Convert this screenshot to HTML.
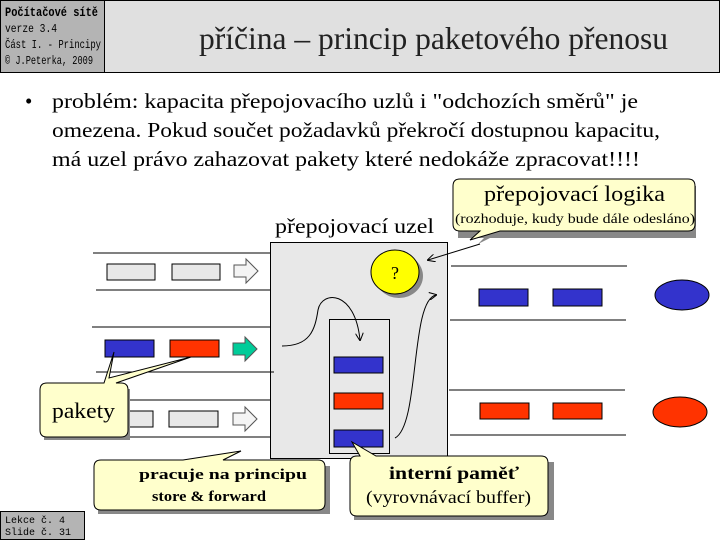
<!DOCTYPE html>
<html><head><meta charset="utf-8"><style>
body{margin:0;width:720px;height:540px;overflow:hidden;background:#fff}
svg text{font-family:"Liberation Serif","Times New Roman",serif}
svg text.m{font-family:"Liberation Mono",monospace}
</style></head><body>
<svg width="720" height="540" xmlns="http://www.w3.org/2000/svg">
<defs>
<marker id="ah" markerWidth="8" markerHeight="8" refX="7" refY="4" orient="auto"><path d="M0,0 L8,4 L0,8" fill="none" stroke="#000"/></marker>
</defs>
<rect x="0.5" y="0.5" width="104" height="72" fill="#b4b4b4" stroke="#000"/>
<rect x="104.5" y="0.5" width="615" height="72" fill="#e0e0e0" stroke="#000"/>
<g fill="#000">
<text class="m" x="5" y="16" font-weight="bold" font-size="13" textLength="93" lengthAdjust="spacingAndGlyphs">Počítačové sítě</text>
<text class="m" x="5" y="32" font-size="12" textLength="52" lengthAdjust="spacingAndGlyphs">verze 3.4</text>
<text class="m" x="5" y="48" font-size="12" textLength="96" lengthAdjust="spacingAndGlyphs">Část I. - Principy</text>
<text class="m" x="5" y="64" font-size="12" textLength="88" lengthAdjust="spacingAndGlyphs">© J.Peterka, 2009</text>
</g>
<text x="199" y="49" font-size="32" fill="#222" textLength="469" lengthAdjust="spacingAndGlyphs">příčina – princip paketového přenosu</text>
<g font-size="21" fill="#000">
<text x="25" y="108">•</text>
<text x="52" y="108" textLength="586" lengthAdjust="spacingAndGlyphs">problém: kapacita přepojovacího uzlů i "odchozích směrů" je</text>
<text x="52" y="137" textLength="608" lengthAdjust="spacingAndGlyphs">omezena. Pokud součet požadavků překročí dostupnou kapacitu,</text>
<text x="52" y="166" textLength="588" lengthAdjust="spacingAndGlyphs">má uzel právo zahazovat pakety které nedokáže zpracovat!!!!</text>
<text x="275" y="233" textLength="159" lengthAdjust="spacingAndGlyphs">přepojovací uzel</text>
</g>
<rect x="270.5" y="242.5" width="177" height="216" fill="#e8e8e8" stroke="#000"/>
<g stroke="#000" stroke-width="1">
<line x1="93" y1="253" x2="270" y2="253"/><line x1="96" y1="290" x2="270" y2="290"/>
<line x1="92" y1="327" x2="270" y2="327"/><line x1="96" y1="372" x2="274" y2="372"/>
<line x1="92" y1="400" x2="270" y2="400"/><line x1="96" y1="437" x2="270" y2="437"/>
<line x1="451" y1="266" x2="627" y2="266"/><line x1="450" y1="320" x2="626" y2="320"/>
<line x1="449" y1="390" x2="625" y2="390"/><line x1="450" y1="435" x2="626" y2="435"/>
</g>
<g stroke="#000">
<rect x="107" y="264" width="48" height="16" fill="#e8e8e8"/><rect x="172" y="264" width="48" height="16" fill="#e8e8e8"/>
<path d="M234,265 h12 v-6 l12,12 l-12,12 v-6 h-12z" fill="#f4f4f4" stroke="#555"/>
<rect x="105" y="340" width="49" height="17" fill="#3333cc"/><rect x="170" y="340" width="49" height="17" fill="#ff3300"/>
<path d="M233,343 h12 v-6 l12,12 l-12,12 v-6 h-12z" fill="#00cc99" stroke="#555"/>
<rect x="105" y="411" width="48" height="16" fill="#e8e8e8"/><rect x="169" y="411" width="49" height="16" fill="#e8e8e8"/>
<path d="M233,413 h12 v-6 l12,12 l-12,12 v-6 h-12z" fill="#f4f4f4" stroke="#555"/>
<rect x="329.5" y="319.5" width="60" height="134" fill="none"/>
<rect x="334" y="357" width="49" height="16" fill="#3333cc"/>
<rect x="334" y="393" width="49" height="16" fill="#ff3300"/>
<rect x="334" y="430" width="49" height="17" fill="#3333cc"/>
<rect x="479" y="289" width="49" height="17" fill="#3333cc"/><rect x="553" y="289" width="49" height="17" fill="#3333cc"/>
<rect x="480" y="403" width="49" height="16" fill="#ff3300"/><rect x="553" y="403" width="49" height="16" fill="#ff3300"/>
<ellipse cx="682" cy="295" rx="27" ry="15" fill="#3333cc"/>
<ellipse cx="680" cy="412" rx="27" ry="15" fill="#ff3300"/>
</g>
<ellipse cx="399" cy="276" rx="24" ry="22" fill="#888"/>
<ellipse cx="395" cy="272" rx="24" ry="22" fill="#ffff00" stroke="#000"/>
<text x="395" y="279" font-size="18" text-anchor="middle">?</text>
<g fill="none" stroke="#000">
<path d="M282,346 C310,346 315,330 318,310 C322,290 355,290 360,340" marker-end="url(#ah)"/>
<path d="M395,438 C420,425 410,300 436,295" marker-end="url(#ah)"/>
</g>
<g stroke="#000">
<path d="M458,186 h238 v52 h-206 l-12,6 l6,-6 h-26 z" fill="#888" stroke="none"/>
<path d="M460,179 q-7,0 -7,7 v38 q0,7 7,7 h20 l-10,9 l30,-9 h188 q7,0 7,-7 v-38 q0,-7 -7,-7 z" fill="#ffffcc"/>
<path d="M44,389 h86 v51 h-86z" fill="#888" stroke="none"/>
<path d="M47,383 q-7,0 -7,7 v40 q0,7 7,7 h74 q7,0 7,-7 v-40 q0,-7 -7,-7 h-5 l75,-26 l-82,21 l5,-26 l-10,31 z" fill="#ffffcc"/>
<path d="M98,466 h232 v48 h-232z" fill="#888" stroke="none"/>
<path d="M101,460 q-7,0 -7,7 v36 q0,7 7,7 h217 q7,0 7,-7 v-36 q0,-7 -7,-7 h-95 l18,-9 l-58,9 z" fill="#ffffcc"/>
<path d="M354,462 h200 v58 h-200z" fill="#888" stroke="none"/>
<path d="M357,456 q-7,0 -7,7 v46 q0,7 7,7 h184 q7,0 7,-7 v-46 q0,-7 -7,-7 h-165 l-24,-14 l8,14 z" fill="#ffffcc"/>
</g>
<line x1="480" y1="244" x2="428" y2="260" stroke="#000" marker-end="url(#ah)"/>
<text x="484" y="201" font-size="22" textLength="181" lengthAdjust="spacingAndGlyphs">přepojovací logika</text>
<text x="455" y="223" font-size="14" textLength="240" lengthAdjust="spacingAndGlyphs">(rozhoduje, kudy bude dále odesláno)</text>
<text x="52" y="418" font-size="22" textLength="63" lengthAdjust="spacingAndGlyphs">pakety</text>
<text x="139" y="479" font-size="15" font-weight="bold" textLength="168" lengthAdjust="spacingAndGlyphs">pracuje na principu</text>
<text x="152" y="501" font-size="15" font-weight="bold" textLength="114" lengthAdjust="spacingAndGlyphs">store &amp; forward</text>
<text x="389" y="479" font-size="18" font-weight="bold" textLength="130" lengthAdjust="spacingAndGlyphs">interní paměť</text>
<text x="366" y="503" font-size="18" textLength="165" lengthAdjust="spacingAndGlyphs">(vyrovnávací buffer)</text>
<rect x="0.5" y="511.5" width="84" height="28" fill="#b4b4b4" stroke="#000"/>
<text class="m" x="5" y="523" font-size="10">Lekce č. 4</text>
<text class="m" x="5" y="535" font-size="10">Slide č. 31</text>
</svg>
</body></html>
